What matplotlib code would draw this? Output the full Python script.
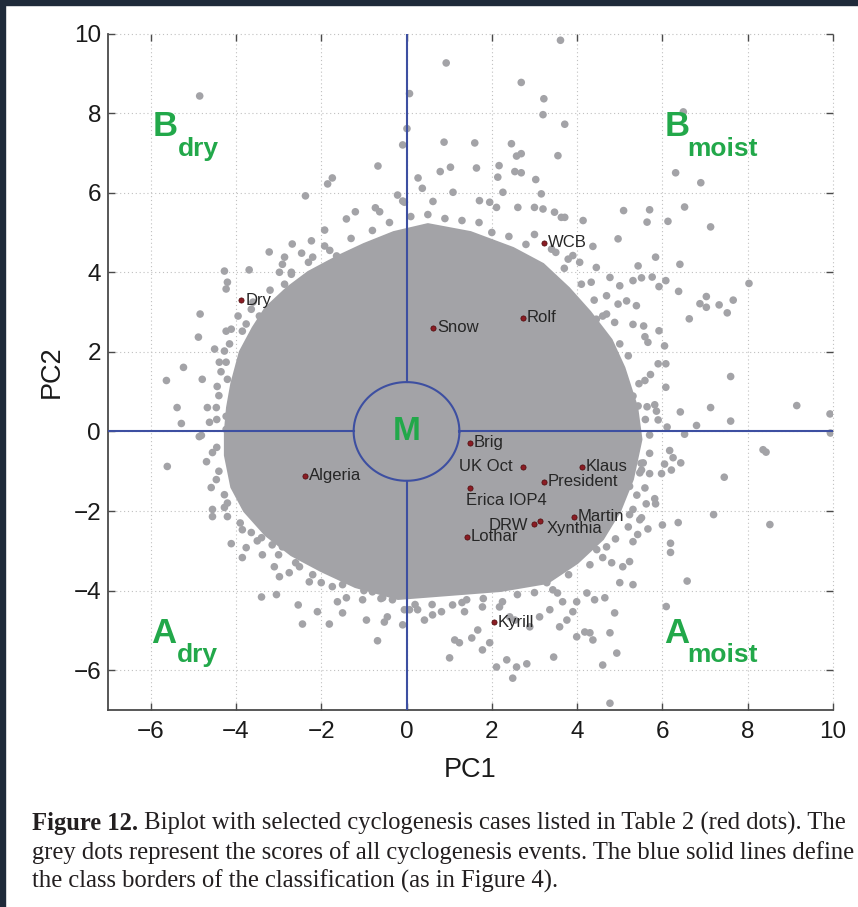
import numpy as np
import matplotlib
matplotlib.use("Agg")
import matplotlib.pyplot as plt
from matplotlib.patches import Polygon, Rectangle

plt.rcParams['font.family'] = ['Liberation Sans', 'DejaVu Sans']

# ---------------- data ----------------
# outline of the dense (mostly saturated) part of the grey point cloud
core_x = [-4.25, -4.2, -4.1, -3.9, -3.6, -3.3, -2.8, -2.3, -1.6, -1.0, -0.3, 0.5, 1.5,
          2.5, 3.2, 3.8, 4.3, 4.8, 5.1, 5.4, 5.5, 5.3, 5.0, 4.6, 4.0, 3.3, 2.2, 1.0,
          -0.2, -1.2, -2.0, -2.7, -3.3, -3.8, -4.1, -4.25]
core_y = [0.0, 0.6, 1.2, 2.0, 2.6, 3.1, 3.6, 4.0, 4.4, 4.7, 5.0, 5.2, 5.0,
          4.6, 4.2, 3.6, 3.0, 2.3, 1.6, 0.6, -0.2, -1.2, -2.0, -2.7, -3.3, -3.8, -4.0, -4.1,
          -4.2, -3.9, -3.5, -3.1, -2.6, -2.0, -1.4, -0.6]

# grey points on the ragged rim of the dense part
rim_x = [-4.4, -4.35, -4.15, -3.95, -3.6, -3.2, -2.7, -2.3, -1.8, -1.3, -0.8, -0.4,
         0.1, 0.5, 0.9, 1.3, 1.7, 2.0, 2.4, 2.8, 3.0, 3.5, 3.7, 4.1, 4.4, 4.6, 5.0, 5.2,
         5.45, 5.6, 5.5, 5.4, 5.2, 4.9, 4.3, 3.8, 3.0, 2.6, 1.8, 1.3, 0.6, 0.2,
         -0.6, -1.0, -1.5, -2.2, -2.6, -3.0, -3.5, -3.9, -4.2, -4.4, -4.45, -4.45]
rim_y = [0.9, 1.5, 2.2, 2.9, 3.25, 3.55, 3.95, 4.25, 4.55, 4.85, 5.05, 5.25,
         5.4, 5.45, 5.35, 5.3, 5.25, 5.0, 4.9, 4.7, 4.95, 4.5, 4.1, 3.7, 3.3, 2.9, 2.2, 1.9,
         1.2, 0.3, -0.8, -1.6, -2.4, -2.7, -3.35, -3.6, -4.05, -4.1, -4.2, -4.3, -4.35, -4.35,
         -4.2, -4.0, -3.85, -3.6, -3.3, -3.1, -2.75, -2.3, -1.8, -1.0, -0.4, 0.3]

# individual grey points outside the dense part
gray_x = [
    # upper left
    -0.67, -1.74, -1.85, -2.37, -1.41, -1.2, -0.73, -0.63, -0.21, -0.09, -1.92, -2.23, -1.92,
    -2.68, -2.46, -3.22, -2.86, -2.91, -2.2, -1.64, -1.34, -4.27, -3.69, -4.2, -4.23, -2.98,
    -2.7, -2.86, -4.84, -4.88, -4.5, -4.27, -4.23, -4.11, -3.85, -3.76, -3.64, -3.45, -3.26,
    -5.23, -5.63, -4.79, -4.44, -4.2, -4.39, -4.23, -5.38, -5.28, -4.67, -4.46, -4.62, -4.23,
    -4.23, -4.81, -4.85,
    # lower left
    -5.61, -4.86, -4.69, -4.55, -4.46, -4.58, -4.27, -4.55, -4.55, -4.27, -4.2, -4.11, -3.85,
    -3.64, -3.76, -3.85, -3.4, -3.38, -3.15, -2.91, -3.1, -2.98, -2.75, -3.4, -3.05, -2.54,
    -2.44, -2.09, -1.81, -1.5, -1.62, -1.41, -2.0, -1.74, -2.51, -2.28, -0.94, -1.03, -0.8,
    -0.56, -0.33, -0.68, -0.52, -0.45, -0.09, -0.05,
    # lower right
    1.01, 1.24, 1.13, 1.53, 1.67, 1.95, 1.78, 2.11, 2.35, 2.58, 2.82, 2.49, 3.45, 3.59, 3.99,
    4.18, 4.3, 4.37, 4.77, 4.93, 4.6, 4.77, 4.88, 4.65, 4.41, 4.23, 3.99, 3.66, 3.54, 3.29,
    3.43, 0.42, 0.61, 0.07, 0.26, 0.82, 1.08, 1.41, 1.36, 1.78, 2.42, 2.54, 2.18, 2.25, 2.89,
    3.12, 3.36, 3.76, 3.9, 5.0, 5.31, 5.23, 5.07, 4.81, 4.6, 4.69, 4.46, 5.31, 5.42, 5.23,
    5.47, 4.84, 5.31, 5.16, 5.47, 5.23, 5.31, 4.92,
    # upper right
    3.61, 0.93, 2.69, 3.22, 3.2, 3.71, 0.07, 0.01, -0.09, 0.88, 1.6, 2.46, 2.58, 2.69, 3.55,
    0.79, 1.03, 1.64, 2.17, 2.14, 2.54, 2.69, 3.03, 0.27, 0.37, 1.09, 2.26, 3.16, -0.05, 0.62,
    1.71, 1.95, 2.11, 2.61, 3.0, 3.2, 3.47, 3.63, 3.71, 4.14, 5.09, 4.96, 4.37, 4.45, 4.06,
    3.79, 5.43, 4.77, 5.0, 5.31, 4.96, 5.16, 5.39, 4.69, 4.88, 5.31, 5.43, 5.28, 5.09, 4.85,
    4.73, 5.05, 5.31, 3.4, 3.9, 4.33, 4.69, 4.45, 6.49,
    # far right
    6.31, 6.9, 5.7, 5.64, 6.13, 6.52, 7.13, 5.84, 6.41, 5.51, 5.76, 5.92, 6.08, 6.38, 8.03,
    6.88, 7.03, 7.03, 7.33, 7.52, 7.66, 6.63, 5.56, 5.59, 5.66, 5.92, 6.05, 5.9, 6.08, 5.72,
    5.59, 6.08, 7.6, 5.64, 5.82, 5.86, 5.9, 6.42, 7.13, 7.6, 9.15, 9.93, 6.8, 6.52, 6.11, 5.7,
    9.94, 8.36, 8.43, 6.17, 6.25, 6.43, 6.05, 5.98, 6.21, 5.7, 5.55, 5.51, 5.7, 5.59, 5.62,
    5.82, 5.84, 7.45, 7.2, 8.52, 6.0, 6.37, 5.66, 5.51, 6.19, 6.19, 6.58, 6.09,
]
gray_y = [
    # upper left
    6.67, 6.37, 6.22, 5.92, 5.34, 5.52, 5.62, 5.52, 5.94, 5.79, 5.06, 4.79, 4.66, 4.71, 4.48,
    4.51, 4.38, 4.2, 4.38, 4.41, 4.43, 4.03, 4.06, 3.75, 3.58, 4.0, 4.0, 3.7, 2.95, 2.37, 2.07,
    2.02, 2.52, 2.57, 2.52, 2.7, 3.07, 2.9, 2.57, 1.61, 1.28, 1.31, 1.13, 1.31, 1.74, 1.74, 0.6,
    0.2, 0.6, 0.6, 0.23, 0.38, 0.05, -0.1, 8.43,
    # lower left
    -0.88, -0.13, -0.76, -0.53, -1.21, -1.41, -1.59, -1.96, -2.14, -1.91, -2.14, -2.82, -2.47,
    -2.54, -2.92, -3.17, -2.67, -3.1, -2.85, -2.9, -3.4, -3.65, -3.55, -4.16, -4.1, -4.36,
    -4.84, -4.53, -4.84, -4.56, -4.28, -4.18, -3.8, -3.9, -3.4, -3.78, -4.74, -4.23, -4.03,
    -4.18, -4.23, -5.26, -4.79, -4.66, -4.86, -4.48,
    # lower right
    -5.69, -5.31, -5.24, -5.19, -4.99, -5.31, -5.49, -5.92, -5.74, -5.92, -5.84, -6.2, -5.67,
    -4.91, -5.16, -5.04, -5.06, -5.24, -5.06, -5.57, -5.87, -6.83, -4.56, -4.18, -4.23, -4.06,
    -4.28, -4.28, -4.06, -3.8, -3.98, -4.74, -4.61, -4.48, -4.48, -4.53, -4.36, -4.23, -4.53,
    -4.41, -4.66, -4.74, -4.41, -4.28, -4.91, -4.66, -4.48, -4.74, -4.53, -3.8, -3.85, -3.27,
    -3.4, -3.3, -3.17, -2.9, -2.97, -2.77, -2.59, -2.09, -2.22, -0.2, -0.29, -0.7, -1.04,
    -1.38, -1.96, -1.88,
    # upper right
    9.83, 9.26, 8.77, 8.36, 7.96, 7.72, 8.49, 7.61, 7.2, 7.27, 7.25, 7.23, 6.92, 6.98, 6.93,
    6.53, 6.64, 6.62, 6.68, 6.39, 6.53, 6.5, 6.33, 6.37, 6.11, 6.01, 6.01, 5.97, 5.76, 5.78,
    5.8, 5.76, 5.63, 5.63, 5.63, 5.59, 5.51, 5.38, 5.38, 5.3, 5.55, 4.84, 4.65, 4.12, 4.25,
    4.33, 4.16, 3.87, 3.66, 3.79, 3.2, 3.28, 3.16, 2.95, 2.74, 2.69, 0.64, 0.6, 0.72, 0.64,
    0.89, 1.31, 0.89, 4.58, 4.42, 3.75, 3.41, 2.82, 8.03,
    # far right
    6.5, 6.25, 5.57, 5.26, 5.28, 5.64, 5.14, 4.38, 4.2, 3.86, 3.88, 3.64, 3.79, 3.52, 3.72,
    3.21, 3.12, 3.39, 3.18, 2.98, 3.3, 2.83, 2.65, 2.38, 2.24, 2.53, 2.15, 1.7, 1.7, 1.43,
    1.28, 1.11, 1.38, 0.62, 0.67, 0.51, 0.29, 0.49, 0.6, 0.26, 0.65, 0.44, 0.15, -0.07, 0.11,
    -0.09, -0.04, -0.46, -0.52, -0.48, -0.66, -0.79, -0.82, -1.06, -0.97, -0.55, -0.79,
    -0.97, -1.06, -1.42, -1.82, -1.69, -1.82, -1.15, -2.09, -2.34, -2.35, -2.29, -2.45,
    -2.17, -2.81, -3.04, -3.76, -4.4,
]

# selected cyclogenesis cases (red dots)
case_names = ['Dry', 'Snow', 'Rolf', 'WCB', 'Algeria', 'Brig', 'UK Oct', 'Klaus',
              'President', 'Erica IOP4', 'Martin', 'DRW', 'Xynthia', 'Lothar', 'Kyrill']
case_x = [-3.87, 0.62, 2.73, 3.22, -2.37, 1.48, 2.73, 4.11, 3.22, 1.49, 3.92, 2.98, 3.12, 1.42, 2.05]
case_y = [3.3, 2.6, 2.86, 4.74, -1.11, -0.29, -0.89, -0.89, -1.26, -1.42, -2.15, -2.32, -2.26, -2.65, -4.79]

x_ticks = [-6, -4, -2, 0, 2, 4, 6, 8, 10]
y_ticks = [-6, -4, -2, 0, 2, 4, 6, 8, 10]

caption_bold = "Figure 12."
caption_lines = [
    " Biplot with selected cyclogenesis cases listed in Table 2 (red dots). The",
    "grey dots represent the scores of all cyclogenesis events. The blue solid lines define",
    "the class borders of the classification (as in Figure 4).",
]

# ---------------- styles ----------------
GRAY = '#a3a3a7'
BLUE = '#3d4fa1'
GREEN = '#22a84a'
DARK = '#1f2a3a'
R = 1.24

W, H = 858, 907
fig = plt.figure(figsize=(W / 100, H / 100), dpi=100)
fig.patch.set_facecolor('white')
fig.add_artist(Rectangle((0, 1 - 5 / H), 1, 5 / H, transform=fig.transFigure,
                         color=DARK, zorder=10))
fig.add_artist(Rectangle((0, 0), 5 / W, 1, transform=fig.transFigure, color=DARK, zorder=10))

ax = fig.add_axes([108 / W, 1 - 710 / H, 725 / W, 676.5 / H])
ax.set_xlim(-7, 10)
ax.set_ylim(-7, 10)

# grey cloud
ax.add_patch(Polygon(np.column_stack([core_x, core_y]), closed=True, facecolor=GRAY,
                     edgecolor=GRAY, lw=2, joinstyle='round', zorder=2))
ax.scatter(rim_x, rim_y, s=30, c=GRAY, edgecolors='none', zorder=2)
ax.scatter(gray_x, gray_y, s=30, c=GRAY, edgecolors='none', zorder=2)

# class borders
th = np.linspace(0, 2 * np.pi, 300)
ax.plot(R * np.cos(th), R * np.sin(th), color=BLUE, lw=1.5, zorder=4)
ax.plot([0, 0], [R, 10], color=BLUE, lw=1.5, zorder=4)
ax.plot([0, 0], [-7, -R], color=BLUE, lw=1.5, zorder=4)
ax.plot([-7, -R], [0, 0], color=BLUE, lw=1.5, zorder=4)
ax.plot([R, 10], [0, 0], color=BLUE, lw=1.5, zorder=4)

# cases
ax.scatter(case_x, case_y, s=14, facecolor='#8b1c24', edgecolor='#4a0a0a', lw=0.5, zorder=6)
label_style = {
    'UK Oct': dict(off=(-10, 0), ha='right'),
    'Erica IOP4': dict(off=(-4, -13), ha='left'),
    'DRW': dict(off=(-5, -2), ha='right'),
    'Xynthia': dict(off=(7, -7), ha='left'),
    'Martin': dict(off=(4, 0), ha='left'),
}
for name, x, y in zip(case_names, case_x, case_y):
    st = label_style.get(name, dict(off=(4, 0), ha='left'))
    ax.annotate(name, (x, y), xytext=(st['off'][0] * 0.72, st['off'][1] * 0.72),
                textcoords='offset points', ha=st['ha'], va='center', fontsize=12,
                color='#262626', zorder=7)

# class names
def class_label(big, sub, xb, yb, xs, ys):
    ax.text(xb, yb, big, color=GREEN, fontsize=25, fontweight='bold', ha='left',
            va='center', zorder=8)
    ax.text(xs, ys, sub, color=GREEN, fontsize=19, fontweight='bold', ha='left',
            va='baseline', zorder=8)

class_label('B', 'dry', -5.96, 7.66, -5.35, 6.91)
class_label('B', 'moist', 6.05, 7.66, 6.59, 6.91)
class_label('A', 'dry', -5.98, -5.09, -5.39, -5.8)
class_label('A', 'moist', 6.03, -5.09, 6.59, -5.8)
ax.text(0, 0, 'M', color=GREEN, fontsize=24, fontweight='bold', ha='center', va='center',
        zorder=8)

# axes styling
ax.set_xticks(x_ticks)
ax.set_yticks(y_ticks)
ax.grid(True, linestyle=(0, (1, 2.5)), color='#c0c0c0', lw=0.8, zorder=0)
for gl in ax.get_xgridlines() + ax.get_ygridlines():
    gl.set_clip_on(False)
ax.set_axisbelow(True)
for s in ['top', 'right']:
    ax.spines[s].set_visible(False)
for s in ['left', 'bottom']:
    ax.spines[s].set_color('#4a4a4a')
    ax.spines[s].set_linewidth(1.3)
ax.tick_params(direction='in', length=5, width=1, colors='#4a4a4a', labelcolor='#1a1a1a',
               labelsize=17.5, top=True, right=True)
ax.tick_params(axis='x', pad=8)
ax.tick_params(axis='y', pad=5)
ax.set_xlabel('PC1', fontsize=19.5, color='#1a1a1a', va='center')
ax.set_ylabel('PC2', fontsize=19.5, color='#1a1a1a', va='center')
ax.xaxis.set_label_coords(0.5, (710 - 770) / 676.5)
ax.yaxis.set_label_coords((52 - 108) / 725, 0.5)

# caption
serif = ['Liberation Serif', 'DejaVu Serif']
renderer = fig.canvas.get_renderer()
fs = 16
probe = fig.text(0, 0, caption_lines[1], fontsize=fs, family=serif)
wpx = probe.get_window_extent(renderer).width
probe.remove()
fs = fs * 821 / wpx

x0 = 32 / W
baselines = [830, 859, 888]
tb = fig.text(x0, 1 - baselines[0] / H, caption_bold, fontsize=fs, family=serif,
              fontweight='bold', va='baseline', color='#231f20')
bb = tb.get_window_extent(renderer)
fig.text(bb.x1 / W, 1 - baselines[0] / H, caption_lines[0], fontsize=fs, family=serif,
         va='baseline', color='#231f20')
for line, b in zip(caption_lines[1:], baselines[1:]):
    fig.text(x0, 1 - b / H, line, fontsize=fs, family=serif, va='baseline', color='#231f20')

fig.savefig('out.png', dpi=100)
